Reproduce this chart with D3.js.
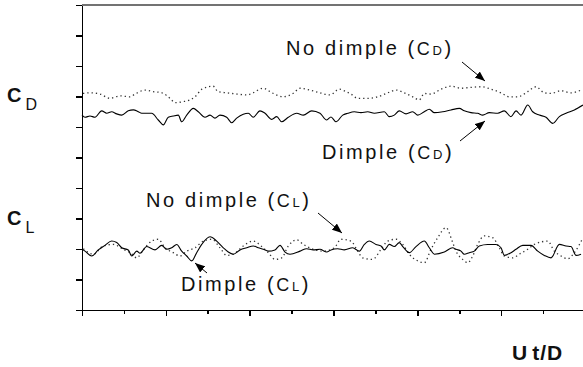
<!DOCTYPE html>
<html>
<head>
<meta charset="utf-8">
<script src="https://cdn.jsdelivr.net/npm/d3@7"></script>
<style>
  html, body { margin: 0; padding: 0; background: #fff; }
  svg { display: block; font-family: Arial, "Liberation Sans", sans-serif; }
  .axis path, .axis line { stroke: #000; stroke-width: 1.6; shape-rendering: crispEdges; }
  .label { fill: #111; }
</style>
</head>
<body>
<svg id="chart" width="583" height="367"></svg>
<script>
// Ut/D (time) and signal values; y is in tick units (0..10)
const cdNoDimpleT = [0.12,0.95,2.15,3.34,4.53,5.73,6.32,7.52,8.47,9.54,10.50,11.09,12.05,12.88,13.48,14.31,15.63,16.22,17.30,18.49,19.68,20.40,21.59,22.67,23.98,25.17,26.01,27.20,28.39,29.58,30.69,31.49,32.08,32.88,34.07,35.27,36.46,37.46,38.45,39.45,40.24,40.83,41.63,42.83,44.02,45.21,46.40,47.60,48.79,49.98,50.97,51.97,53.17,54.16,55.15,55.95,57.14,58.33,59.53];
const cdNoDimple = [7.10,7.12,7.08,6.94,7.02,6.99,7.08,7.21,7.16,7.12,6.94,6.80,6.83,6.89,6.99,7.24,7.34,7.16,7.12,7.08,7.05,7.12,7.27,7.12,6.99,7.10,7.27,7.21,7.12,7.05,7.24,7.16,7.08,6.94,6.94,6.99,7.12,7.21,7.12,6.99,6.89,7.10,7.08,7.24,7.34,7.27,7.30,7.32,7.24,7.12,6.99,6.99,7.16,7.32,7.12,7.10,7.19,7.12,7.21];

const cdDimpleT = [0,0.36,0.95,1.55,2.35,2.95,3.54,4.14,4.74,5.52,6.12,6.72,7.12,8.31,9.10,9.70,10.29,10.89,11.49,11.89,12.49,13.28,13.87,14.67,15.27,15.86,16.46,17.26,17.86,18.45,19.24,19.84,20.43,21.23,21.83,22.63,23.23,23.82,24.61,25.61,26.40,27.40,28.39,29.19,29.70,30.30,31.10,31.70,32.48,33.28,34.08,34.87,36.06,36.66,37.25,37.85,38.65,39.45,40.05,40.83,41.43,42.03,43.03,44.02,45.01,45.60,46.40,47.20,47.80,48.59,49.59,50.38,51.17,51.77,52.37,53.17,53.76,54.55,55.35,56.15,56.94,57.74,58.73,59.76];
const cdDimple = [6.39,6.32,6.36,6.32,6.53,6.45,6.50,6.43,6.39,6.53,6.56,6.50,6.45,6.45,6.23,6.07,6.32,6.36,6.39,6.17,6.39,6.61,6.50,6.32,6.39,6.29,6.39,6.32,6.14,6.29,6.42,6.45,6.32,6.53,6.45,6.25,6.34,6.17,6.32,6.45,6.39,6.53,6.45,6.23,6.33,6.17,6.39,6.45,6.50,6.47,6.50,6.45,6.50,6.34,6.39,6.53,6.43,6.50,6.39,6.50,6.58,6.47,6.50,6.56,6.61,6.53,6.47,6.45,6.39,6.47,6.45,6.53,6.34,6.53,6.39,6.72,6.50,6.39,6.32,6.12,6.34,6.45,6.56,6.72];

const clNoDimpleT = [0.16,1.35,2.54,3.73,4.93,5.73,6.53,7.31,8.31,9.10,9.90,10.89,11.69,12.49,13.48,14.47,15.47,16.46,17.26,18.05,19.24,20.43,21.44,22.22,23.02,23.82,24.61,25.61,26.40,27.59,28.78,30.10,30.90,32.08,32.89,33.48,34.68,35.67,36.47,37.46,38.26,39.04,40.05,40.83,41.63,42.43,43.42,44.22,44.61,45.41,46.01,46.61,47.20,47.99,48.99,49.78,50.38,51.38,52.16,53.17,53.95,54.75,55.55,56.34,57.14,57.94,58.73,59.76];
const clNoDimple = [2.01,1.83,2.10,2.15,1.99,1.88,1.71,1.97,2.26,2.32,2.04,1.88,1.77,1.93,2.04,2.26,2.32,2.04,1.79,1.83,2.10,2.26,2.08,1.88,1.66,1.71,2.10,2.30,2.15,1.99,1.93,2.04,2.32,2.26,1.93,1.71,1.66,1.99,2.26,2.32,2.15,1.83,1.61,1.55,1.99,2.37,2.70,2.21,1.93,1.66,1.55,1.77,2.15,2.43,2.37,2.04,1.77,1.71,1.83,1.99,2.15,2.23,2.26,1.93,1.77,1.68,1.88,2.37];

const clDimpleT = [0,0.36,1.16,1.94,2.74,3.54,4.14,4.74,5.52,5.93,6.53,6.92,7.72,8.71,9.51,10.10,10.70,11.30,11.89,12.49,13.09,13.68,14.28,15.27,16.07,16.86,17.45,18.05,18.85,19.65,20.43,21.03,21.63,22.22,23.02,23.62,24.22,24.81,26.01,26.80,27.59,28.39,29.19,29.70,30.50,31.29,32.29,33.08,33.68,34.27,35.07,35.67,36.06,36.66,37.25,37.85,38.26,39.04,39.84,40.83,41.43,42.03,43.22,44.22,44.61,45.21,45.60,46.20,46.80,47.39,48.40,49.39,49.98,50.38,51.17,51.77,52.57,53.56,54.36,55.15,55.95,56.94,57.74,58.33,58.93,59.53];
const clDimple = [2.00,1.93,1.77,1.97,2.12,2.26,2.21,2.04,1.97,1.77,1.93,1.86,2.08,1.97,2.12,1.99,2.04,2.15,1.93,1.77,1.61,1.88,2.15,2.40,2.26,2.04,1.90,1.83,1.97,2.04,2.10,2.04,1.99,1.93,1.97,2.12,1.90,1.83,1.93,2.01,1.97,1.99,1.90,1.97,2.01,1.97,2.04,1.93,2.15,2.26,2.15,2.10,1.97,2.15,2.08,2.21,2.08,1.88,2.08,2.26,2.04,1.83,1.90,2.04,1.99,1.93,1.83,1.88,1.93,2.10,2.15,2.15,2.04,1.79,1.88,1.99,2.12,2.12,1.93,1.79,1.71,2.15,2.10,2.08,1.79,1.83];

const xMajorTicks = [0,10,20,30,40,50,60];
const xMinorTicks = [5,15,25,35,45,55];
const yTicks = d3.range(0, 11);

const svg = d3.select("#chart");

const x = d3.scaleLinear().domain([0, 60]).range([82, 585]);
const y = d3.scaleLinear().domain([0, 10]).range([310, 5]);

// frame: top border is a thin grey rule
svg.append("line")
    .attr("x1", x(0)).attr("x2", x(60))
    .attr("y1", y(10)).attr("y2", y(10))
    .attr("stroke", "#444")
    .attr("stroke-width", 1.6);

svg.append("g").attr("class", "axis")
    .attr("transform", `translate(${x(0)},0)`)
    .call(d3.axisLeft(y).tickValues(yTicks).tickSize(6).tickSizeOuter(0).tickFormat(""));

svg.append("g").attr("class", "axis")
    .attr("transform", `translate(0,${y(0)})`)
    .call(d3.axisBottom(x).tickValues(xMajorTicks).tickSize(6).tickSizeOuter(0).tickFormat(""));

svg.append("g").attr("class", "axis minor")
    .attr("transform", `translate(0,${y(0)})`)
    .call(d3.axisBottom(x).tickValues(xMinorTicks).tickSize(4).tickSizeOuter(0).tickFormat(""))
    .select(".domain").remove();

const line = d3.line()
    .x(d => x(d[0]))
    .y(d => y(d[1]))
    .curve(d3.curveMonotoneX);

const series = [
    {t: cdNoDimpleT, v: cdNoDimple, dotted: true},
    {t: cdDimpleT, v: cdDimple, dotted: false},
    {t: clNoDimpleT, v: clNoDimple, dotted: true},
    {t: clDimpleT, v: clDimple, dotted: false}
];

svg.selectAll(".series").data(series).enter()
    .append("path")
    .attr("class", "series")
    .attr("d", d => line(d3.zip(d.t, d.v)))
    .attr("fill", "none")
    .attr("stroke", d => d.dotted ? "#333" : "#000")
    .attr("stroke-width", d => d.dotted ? 1.3 : 1.1)
    .attr("stroke-dasharray", d => d.dotted ? "1.3,3" : null);

// arrows
svg.append("defs").append("marker")
    .attr("id", "head")
    .attr("markerUnits", "userSpaceOnUse")
    .attr("markerWidth", 10).attr("markerHeight", 8)
    .attr("refX", 10).attr("refY", 4)
    .attr("orient", "auto")
    .append("path")
    .attr("d", "M0,0 L10,4 L0,8 Z")
    .attr("fill", "#000");

const arrows = [
    [462, 62, 485, 81],
    [460, 141, 485, 121],
    [318, 213, 342, 233],
    [207, 273, 195, 263]
];

svg.selectAll(".arrow").data(arrows).enter()
    .append("line")
    .attr("class", "arrow")
    .attr("x1", d => d[0]).attr("y1", d => d[1])
    .attr("x2", d => d[2]).attr("y2", d => d[3])
    .attr("stroke", "#000")
    .attr("stroke-width", 1)
    .attr("marker-end", "url(#head)");

// curve labels: name, subscript, left x, baseline
const notes = [
    ["No dimple (", "D", 286, 55],
    ["Dimple (", "D", 322, 159],
    ["No dimple (", "L", 146, 207],
    ["Dimple (", "L", 181, 291]
];

const note = svg.selectAll(".note").data(notes).enter()
    .append("text")
    .attr("class", "note label")
    .attr("x", d => d[2])
    .attr("y", d => d[3])
    .attr("font-size", 20)
    .attr("letter-spacing", 2.6);

note.append("tspan").text(d => d[0]);
note.append("tspan").attr("font-size", 18).text("C");
note.append("tspan").attr("font-size", 13).text(d => d[1]);
note.append("tspan").text(")");

// y labels
const yLabels = [["D", 102], ["L", 225]];
const yl = svg.selectAll(".ylab").data(yLabels).enter()
    .append("text")
    .attr("class", "ylab label")
    .attr("x", 7)
    .attr("y", d => d[1]);

yl.append("tspan").attr("font-size", 20).attr("font-weight", "bold").text("C");
yl.append("tspan").attr("font-size", 16).attr("dx", 4).attr("dy", 8).text(d => d[0]);

const xl = svg.append("text")
    .attr("class", "label")
    .attr("x", 512)
    .attr("y", 360)
    .attr("font-size", 21)
    .attr("font-weight", "bold");
xl.append("tspan").text("U");
xl.append("tspan").attr("dx", 5).attr("letter-spacing", 1).text("t/D");
</script>
</body>
</html>
